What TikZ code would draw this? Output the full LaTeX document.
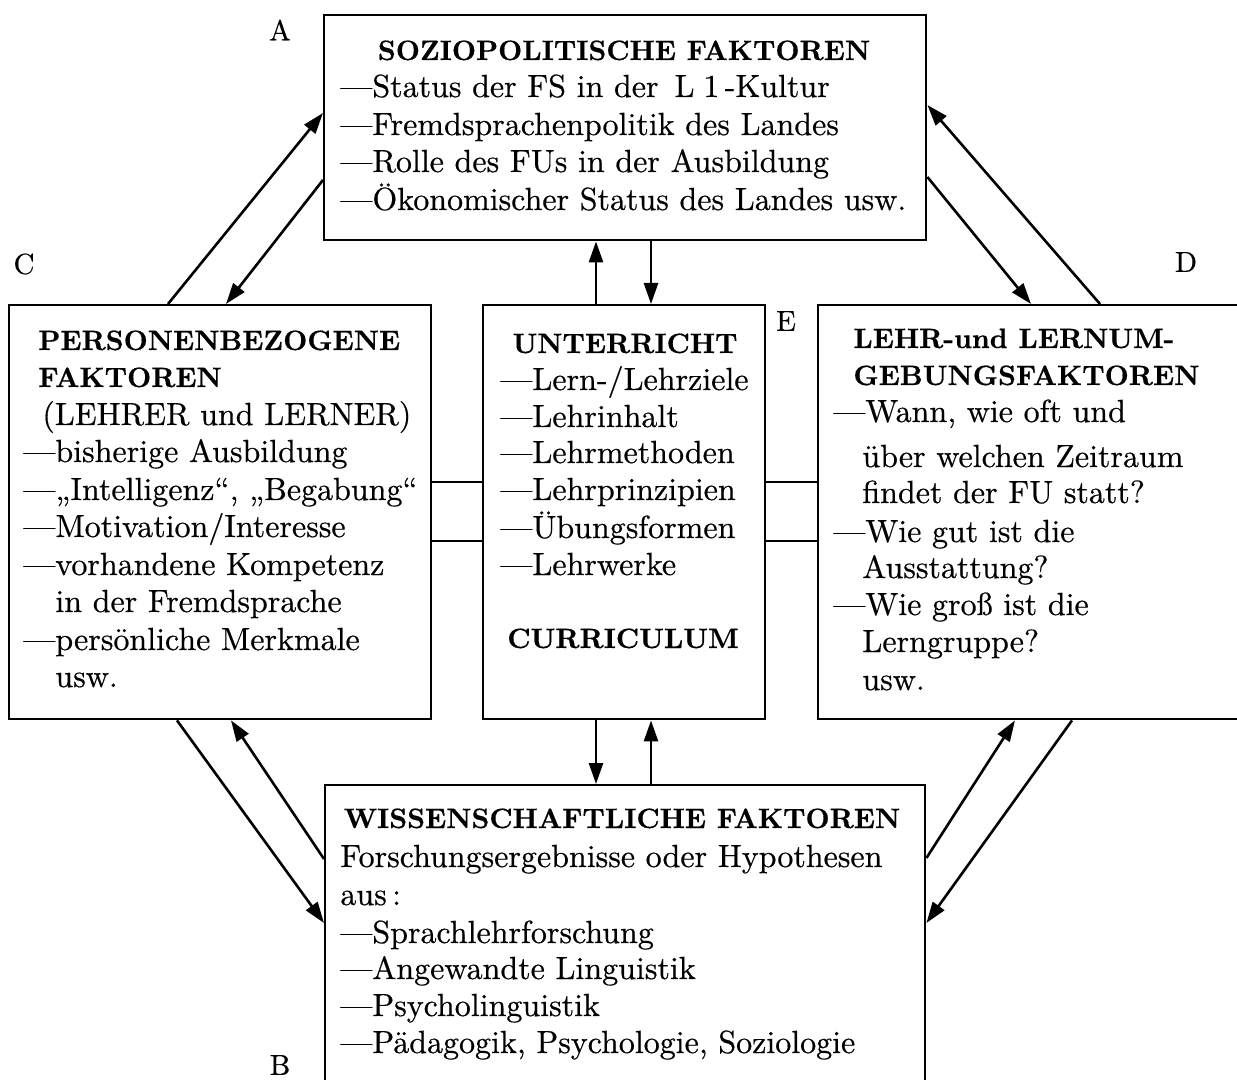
\documentclass[tikz,border=0pt]{standalone}
\usepackage{fontspec}
\setmainfont{lmroman10-regular.otf}[
	FakeBold=0.5,
	BoldFont=lmroman10-bold.otf]
\usetikzlibrary{calc,arrows.meta}

\tikzset{
	box/.style={draw, line width=1.2pt, inner sep=0pt, anchor=north west},
	arr/.style={line width=1.3pt, -{Triangle[length=10.5pt,width=7pt]}},
	link/.style={line width=0.9pt},
	txt/.style={inner sep=0pt, anchor=base west, font=\fontsize{16}{19}\selectfont},
	head/.style={inner sep=0pt, anchor=base, font=\fontsize{14}{17}\selectfont\bfseries},
	lbl/.style={inner sep=0pt, font=\fontsize{14.5}{17}\selectfont},
}

\begin{document}
\begin{tikzpicture}[x=0.5pt, y=-0.5pt]

% parameters %{{{1

	\def\px{0.5pt}

% frame %{{{1

	\useasboundingbox (0,0) rectangle (1237,1080);
	\clip (0,0) rectangle (1237,1080);

% boxes %{{{1

	\node[box, minimum width=602*\px, minimum height=225*\px] (boxA) at (323,14) {};
	\node[box, minimum width=422*\px, minimum height=414*\px] (boxC) at (8,304) {};
	\node[box, minimum width=282*\px, minimum height=414*\px] (boxE) at (482,304) {};
	\node[box, minimum width=450*\px, minimum height=414*\px] (boxD) at (817,304) {};
	\node[box, minimum width=600*\px, minimum height=340*\px] (boxB) at (324,784) {};

% box labels %{{{1

	\node[lbl] (labA) at (280,30) {A};
	\node[lbl] (labB) at (280,1065) {B};
	\node[lbl] (labC) at (24,264) {C};
	\node[lbl] (labD) at (1186,262) {D};
	\node[lbl] (labE) at (786,321) {E};

% A: soziopolitische faktoren %{{{1

	\node[head] (headA) at (624,60) {SOZIOPOLITISCHE FAKTOREN};
	\node[txt] (a1) at (340,97) {—Status der FS in der\, L\;1\,-Kultur};
	\node[txt] (a2) at (340,135) {—Fremdsprachenpolitik des Landes};
	\node[txt] (a3) at (340,172) {—Rolle des FUs in der Ausbildung};
	\node[txt] (a4) at (340,210) {—Ökonomischer Status des Landes usw.};

% C: personenbezogene faktoren %{{{1

	\node[head, anchor=base west] (headC1) at (38,350) {PERSONENBEZOGENE};
	\node[head, anchor=base west] (headC2) at (38,387) {FAKTOREN};
	\node[txt] (c1) at (42,425) {(LEHRER und LERNER)};
	\node[txt] (c2) at (23,462) {—bisherige Ausbildung};
	\node[txt] (c3) at (23,500) {—„Intelligenz“, „Begabung“};
	\node[txt] (c4) at (23,537) {—Motivation/Interesse};
	\node[txt] (c5) at (23,575) {—vorhandene Kompetenz};
	\node[txt] (c6) at (55,612) {in der Fremdsprache};
	\node[txt] (c7) at (23,650) {—persönliche Merkmale};
	\node[txt] (c8) at (55,687) {usw.};

% E: unterricht %{{{1

	\node[head] (headE1) at (625,353) {UNTERRICHT};
	\node[txt] (e1) at (500,390) {—Lern-/Lehrziele};
	\node[txt] (e2) at (500,427) {—Lehrinhalt};
	\node[txt] (e3) at (500,463) {—Lehrmethoden};
	\node[txt] (e4) at (500,500) {—Lehrprinzipien};
	\node[txt] (e5) at (500,538) {—Übungsformen};
	\node[txt] (e6) at (500,575) {—Lehrwerke};
	\node[head] (headE2) at (623,648) {CURRICULUM};

% D: lehr- und lernumgebung %{{{1

	\node[head, anchor=base west] (headD1) at (853,348) {LEHR-und LERNUM-};
	\node[head, anchor=base west] (headD2) at (853,385) {GEBUNGSFAKTOREN};
	\node[txt] (d1) at (833,422) {—Wann, wie oft und};
	\node[txt] (d2) at (862,467) {über welchen Zeitraum};
	\node[txt] (d3) at (862,503) {findet der FU statt?};
	\node[txt] (d4) at (833,542) {—Wie gut ist die};
	\node[txt] (d5) at (862,578) {Ausstattung?};
	\node[txt] (d6) at (833,615) {—Wie groß ist die};
	\node[txt] (d7) at (862,652) {Lerngruppe?};
	\node[txt] (d8) at (862,690) {usw.};

% B: wissenschaftliche faktoren %{{{1

	\node[head] (headB) at (622,828) {WISSENSCHAFTLICHE FAKTOREN};
	\node[txt] (b1) at (340,867) {Forschungsergebnisse oder Hypothesen};
	\node[txt] (b2) at (340,905) {aus\,:};
	\node[txt] (b3) at (340,943) {—Sprachlehrforschung};
	\node[txt] (b4) at (340,979) {—Angewandte Linguistik};
	\node[txt] (b5) at (340,1016) {—Psycholinguistik};
	\node[txt] (b6) at (340,1053) {—Pädagogik, Psychologie, Soziologie};

% arrows C -- A -- D %{{{1

	\draw[arr] ($(boxC.north west)+(160,0)$) -- ($(boxA.north west)+(0,99)$);
	\draw[arr] ($(boxA.north west)+(0,166)$) -- ($(boxC.north west)+(218,0)$);

	\draw[arr] ($(boxD.north west)+(283,0)$) -- ($(boxA.north east)+(0,91)$);
	\draw[arr] ($(boxA.north east)+(0,163)$) -- ($(boxD.north west)+(214,0)$);

% arrows E -- A, E -- B %{{{1

	\coordinate (up1) at ($(boxE.north west)+(114,0)$);
	\coordinate (up2) at ($(boxE.north west)+(169,0)$);
	\coordinate (dn1) at ($(boxE.south west)+(114,0)$);
	\coordinate (dn2) at ($(boxE.south west)+(169,0)$);

	\draw[arr] (up1) -- (up1 |- boxA.south);
	\draw[arr] (up2 |- boxA.south) -- (up2);
	\draw[arr] (dn1) -- (dn1 |- boxB.north);
	\draw[arr] (dn2 |- boxB.north) -- (dn2);

% arrows C -- B -- D %{{{1

	\draw[arr] ($(boxC.south west)+(169,0)$) -- ($(boxB.north west)+(0,139)$);
	\draw[arr] ($(boxB.north west)+(0,75)$) -- ($(boxC.south west)+(223,0)$);

	\draw[arr] ($(boxB.north east)+(0,74)$) -- ($(boxD.south west)+(198,0)$);
	\draw[arr] ($(boxD.south west)+(255,0)$) -- ($(boxB.north east)+(0,139)$);

% links C -- E -- D %{{{1

	\coordinate (h1) at (0,482);
	\coordinate (h2) at (0,541);

	\draw[link] (boxC.east |- h1) -- (boxE.west |- h1);
	\draw[link] (boxC.east |- h2) -- (boxE.west |- h2);
	\draw[link] (boxE.east |- h1) -- (boxD.west |- h1);
	\draw[link] (boxE.east |- h2) -- (boxD.west |- h2);

% closing %{{{1

\end{tikzpicture}
\end{document}
